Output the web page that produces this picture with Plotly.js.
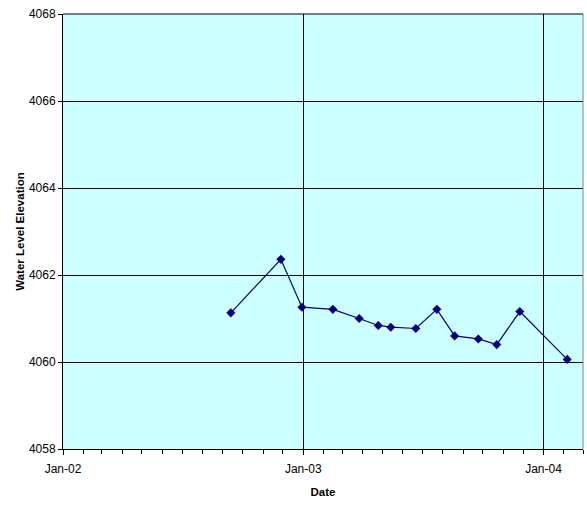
<!DOCTYPE html>
<html>
<head>
<meta charset="utf-8">
<script src="https://cdn.plot.ly/plotly-3.0.1.min.js"></script>
<style>html,body{margin:0;padding:0;background:#fff;}#chart{width:587px;height:506px;}</style>
</head>
<body>
<div id="chart"></div>
<script>
const dates = ['2002-09-13','2002-11-28','2002-12-30','2003-02-15','2003-03-27','2003-04-25','2003-05-14','2003-06-21','2003-07-23','2003-08-19','2003-09-24','2003-10-22','2003-11-26','2004-02-06'];
const levels = [4061.13,4062.36,4061.26,4061.21,4061.00,4060.84,4060.80,4060.77,4061.21,4060.60,4060.53,4060.40,4061.16,4060.06];
const xTitle = 'Date';
const yTitle = 'Water Level Elevation';
const xRange = ['2002-01-01','2004-03-01'];
const yRange = [4058, 4068];

const font = "Arial, 'Liberation Sans', sans-serif";

const trace = {
  x: dates, y: levels, type: 'scatter', mode: 'lines+markers',
  line: {color: '#000080', width: 1.2},
  marker: {symbol: 'diamond', size: 7, color: '#000080'},
  hoverinfo: 'x+y'
};

const layout = {
  width: 587, height: 506,
  margin: {l: 63, r: 4, t: 14, b: 57},
  paper_bgcolor: '#ffffff',
  plot_bgcolor: '#ccffff',
  showlegend: false,
  font: {family: font, size: 12, color: '#000'},
  xaxis: {
    type: 'date', range: xRange,
    tick0: '2002-01-01', dtick: 'M12', tickformat: '%b-%y',
    ticks: 'outside', ticklen: 5, tickcolor: '#000', tickwidth: 1,
    ticklabelstandoff: 4,
    showgrid: true, gridcolor: '#000', gridwidth: 1,
    showline: true, linecolor: '#000', linewidth: 1,
    zeroline: false,
    minor: {dtick: 'M1', tick0: '2002-01-01', ticks: 'outside', ticklen: 4, tickcolor: '#000', showgrid: false},
    tickfont: {family: font, size: 12},
    title: {text: '<b>' + xTitle + '</b>', font: {family: font, size: 11.5}, standoff: 12}
  },
  yaxis: {
    range: yRange, dtick: 2, tick0: 4058,
    ticks: 'outside', ticklen: 4, tickcolor: '#000',
    showgrid: true, gridcolor: '#000', gridwidth: 1,
    showline: true, linecolor: '#000', linewidth: 1,
    zeroline: false,
    tickfont: {family: font, size: 12},
    title: {text: '<b>' + yTitle + '</b>', font: {family: font, size: 11.5}, standoff: 1}
  },
  shapes: [
    {type: 'line', xref: 'paper', yref: 'paper', x0: 1, x1: 1, y0: 0, y1: 1, line: {color: '#808080', width: 1}},
    {type: 'line', xref: 'paper', yref: 'paper', x0: 0, x1: 1, y0: 1, y1: 1, line: {color: '#000', width: 1}}
  ]
};

Plotly.newPlot('chart', [trace], layout, {displayModeBar: false, staticPlot: true});
</script>
</body>
</html>
